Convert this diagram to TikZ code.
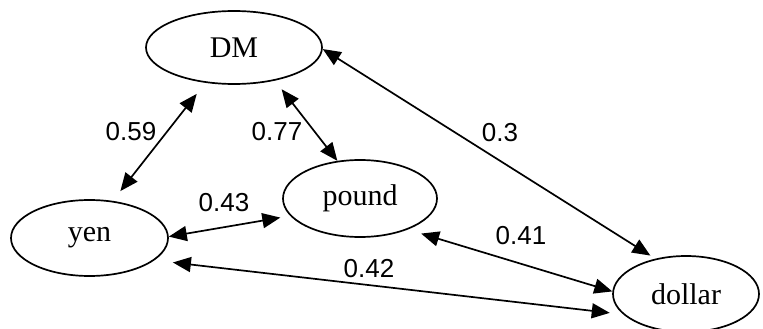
\documentclass[tikz,border=0pt]{standalone}
\usepackage{fontspec}
\setmainfont{Liberation Serif}
\newfontfamily\labfont{Liberation Sans}
\usetikzlibrary{shapes.geometric,arrows.meta}
\begin{document}
\begin{tikzpicture}[x=1pt,y=-1pt,
  cur/.style={ellipse,draw,line width=1.7pt,inner sep=0pt,font=\fontsize{30}{34}\selectfont},
  lab/.style={font=\labfont\fontsize{26}{30}\selectfont,inner sep=0pt},
  link/.style={{Triangle[length=18pt,width=15pt]}-{Triangle[length=18pt,width=15pt]},line width=1.7pt}]
\useasboundingbox (0,0) rectangle (763,329);
\node[cur,minimum width=176pt,minimum height=73pt] (DM) at (234,47.5) {DM};
\node[cur,minimum width=157pt,minimum height=76pt] (yen) at (89.5,238) {yen};
\node[cur,minimum width=154pt,minimum height=77pt] (pound) at (360,198.5) {pound};
\node[cur,minimum width=146pt,minimum height=76pt] (dollar) at (686,294) {dollar};
\draw[link,shorten <=14pt,shorten >=12.4pt] (DM.231.6) -- (yen.58.8);
\draw[link,shorten <=10.9pt] (DM.-39.5) -- (pound.121.1);
\draw[link,shorten >=5.8pt] (DM.-1.6) -- (dollar.131.1);
\draw[link,shorten >=10pt] (yen.1.5) -- (pound.194.7);
\draw[link,shorten <=18.6pt,shorten >=13.5pt] (yen.-19.8) -- (dollar.198.7);
\draw[link,shorten <=13.9pt] (pound.-33.6) -- (dollar.178.4);
\node[lab] (l59) at (131,132) {0.59};
\node[lab] (l77) at (277,132) {0.77};
\node[lab] (l3) at (500,133) {0.3};
\node[lab] (l43) at (224,203) {0.43};
\node[lab] (l41) at (521,236) {0.41};
\node[lab] (l42) at (369,269) {0.42};
\end{tikzpicture}
\end{document}
